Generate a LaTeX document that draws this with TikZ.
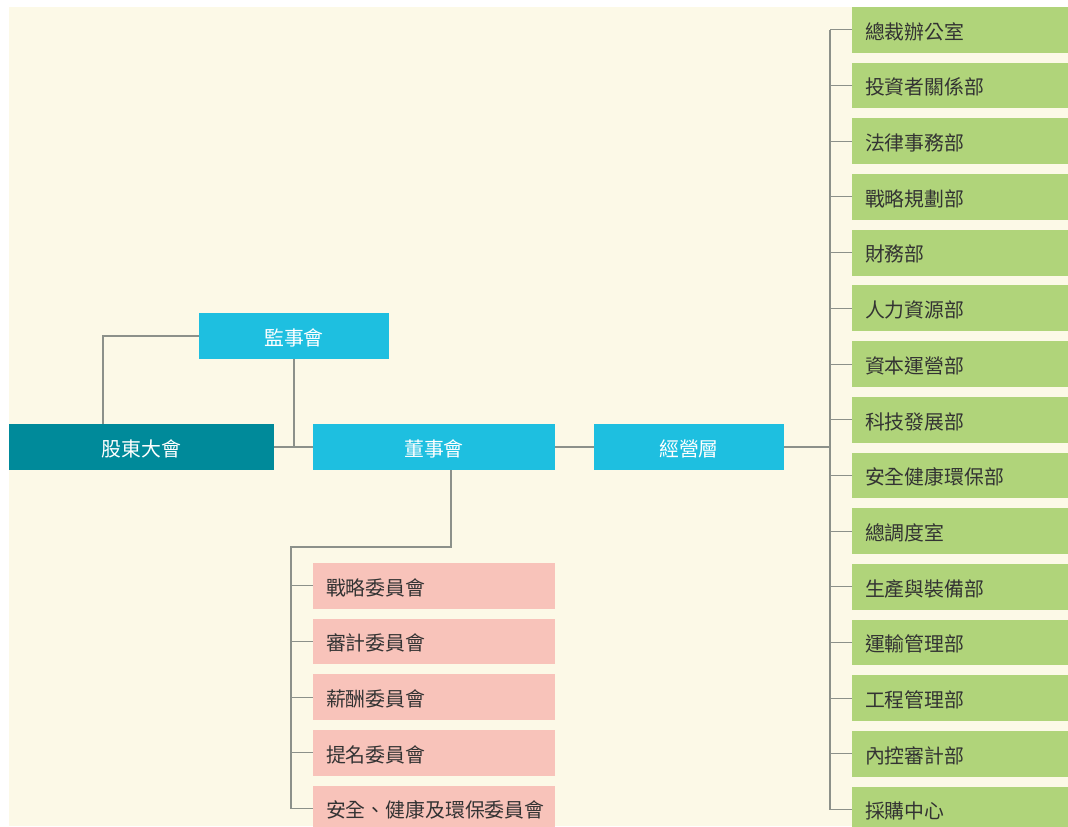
\documentclass[tikz,border=0pt]{standalone}
\usepackage{fontspec}
\setmainfont{Noto Sans CJK TC}
\usetikzlibrary{positioning}
\definecolor{bgcream}{HTML}{FCF9E7}
\definecolor{gmteal}{HTML}{008A9A}
\definecolor{orgblue}{HTML}{1EBFE0}
\definecolor{compink}{HTML}{F8C3BA}
\definecolor{deptgreen}{HTML}{B0D47A}
\definecolor{linkgray}{HTML}{8C918A}
\definecolor{txtdark}{HTML}{333333}

\begin{document}
\begin{tikzpicture}[x=0.75pt,y=-0.75pt,
every node/.style={font=\fontsize{14.9}{17}\selectfont, inner sep=0pt, outer sep=0pt, minimum height=34.3pt, text height=16pt, text depth=2pt},
orgbox/.style={fill=orgblue, text=white, minimum width=142.5pt},
combox/.style={fill=compink, text=txtdark, inner xsep=9.75pt, text width=162pt, align=left},
deptbox/.style={fill=deptgreen, text=txtdark, anchor=west, inner xsep=9.75pt, text width=151.5pt, align=left},
link/.style={draw=linkgray, line width=0.8pt}]
\useasboundingbox (0,0) rectangle (1068,826);
\fill[bgcream] (9,7) rectangle (1068,826);

% top level
\node[fill=gmteal, text=white, minimum width=198.75pt] (gd) at (141.5,447) {股東大會};
\node[orgbox] (js) at (294,336) {監事會};
\node[orgbox, minimum width=181.5pt] (dsh) at (434,447) {董事會};
\node[orgbox] (jyc) at (689,447) {經營層};

% committees
\foreach \t [count=\i] in {戰略委員會,審計委員會,薪酬委員會,提名委員會,安全、健康及環保委員會}
    \node[combox] (c\i) at (434,{585.85+55.7*(\i-1)}) {\t};

% departments
\foreach \t [count=\i] in {總裁辦公室,投資者關係部,法律事務部,戰略規劃部,財務部,人力資源部,資本運營部,科技發展部,安全健康環保部,總調度室,生產與裝備部,運輸管理部,工程管理部,內控審計部,採購中心}
    \node[deptbox] (g\i) at (852,{29.85+55.7*(\i-1)}) {\t};

\coordinate (cbus) at (291,547);
\coordinate (mbus) at (830,447);

\draw[link] ([xshift=70.5pt]gd.north west) |- (js.west);
\draw[link] (js.south) -- (js.south |- gd.east);
\draw[link] (gd.east) -- (dsh.west);
\draw[link] (dsh.east) -- (jyc.west);
\draw[link] ([xshift=12.75pt]dsh.south) |- (cbus) -- (cbus |- c5.west);
\foreach \i in {1,...,5}
    \draw[link] (cbus |- c\i.west) -- (c\i.west);
\draw[link] (jyc.east) -- (mbus);
\draw[link] (mbus |- g1.west) -- (mbus |- g15.west);
\foreach \i in {1,...,15}
    \draw[link] (mbus |- g\i.west) -- (g\i.west);
\end{tikzpicture}
\end{document}
